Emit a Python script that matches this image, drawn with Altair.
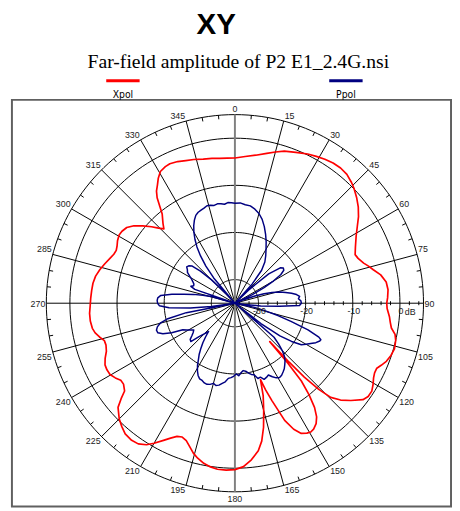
import altair as alt
import pandas as pd

# ---------------- data ----------------
title_text = "XY"
subtitle_text = "Far-field amplitude of P2 E1_2.4G.nsi"
series_names = ["Xpol", "Ppol"]

xpol_ang = [0, 4, 8, 12, 15, 18, 22, 26, 29, 32, 35, 38, 41, 44, 46, 49, 52, 55, 58, 61,
            65, 68, 70, 72.7, 74.5, 76.4, 79, 82, 85, 88, 90, 92, 95, 97, 99, 101, 103, 106, 108.5, 111,
            113, 114.6, 116.5, 118.3, 120.5, 122.7, 125, 127, 130, 132.5, 134.5, 135.8, 136.8, 137.4, 137.8, 138.6, 139.5, 141, 142.6, 144.3,
            146, 148, 149.5, 151, 153, 155, 157, 159.2, 160.5, 161.5, 163, 165, 167, 169, 171, 174, 177, 180, 183, 186,
            188.5, 191, 193.5, 195.5, 197.5, 199.5, 201.5, 203.5, 205.5, 207.5, 210, 212, 214.5, 217, 220, 222.5, 225, 228.3, 230, 231.5,
            234, 236, 238, 240.3, 242.5, 244.6, 247, 249.5, 252, 254, 256, 258, 260, 263, 266, 269, 272, 275, 278, 281,
            284, 287, 290, 292, 294, 296, 298, 300.5, 302.5, 305, 307.5, 310, 312.5, 314.5, 316.3, 318, 320.8, 322.2, 323.6, 325,
            326.8, 328.5, 330.5, 333, 335, 338, 341, 344, 347.6, 351, 354, 357, 360]
xpol_db = [-4.2, -3.8, -3.3, -2.5, -1.8, -1.1, -0.5, 0.2, 0.6, 1.0, 1.3, 1.4, 1.2, 0.6, 0.1, -0.8, -1.8, -3.0, -4.4, -5.6,
           -6.8, -7.5, -7.2, -6.4, -5.6, -4.8, -3.5, -2.6, -2.4, -2.6, -2.8, -2.7, -2.1, -1.8, -1.4, -0.4, 0.0, 0.2, -0.1, -0.6,
           -1.3, -1.9, -1.9, -1.6, -1.0, -0.5, -0.5, -1.0, -2.9, -4.6, -6.5, -9.5, -13.5, -18, -24, -18, -13.3, -10.0, -7.2, -5.3,
           -4.2, -3.5, -3.3, -3.5, -4.0, -5.5, -8.0, -12.9, -15.5, -17.9, -14.5, -11.4, -8.0, -5.2, -3.3, -1.6, -0.3, 0.3, 0.45, 0.4,
           0.1, -0.4, -1.2, -2.0, -3.1, -4.1, -4.5, -4.2, -3.3, -2.2, -0.7, 0.4, 1.2, 1.4, 1.2, 0.5, -0.3, -1.8, -3.5, -5.1,
           -5.8, -5.8, -5.1, -4.5, -4.4, -4.5, -5.1, -5.9, -6.25, -6.2, -5.4, -4.7, -4.3, -4.1, -4.1, -4.3, -4.4, -4.5, -4.6, -4.9,
           -5.5, -6.2, -6.9, -7.3, -7.45, -7.2, -6.8, -6.5, -6.6, -7.0, -8.0, -9.5, -11.0, -12.3, -13.2, -12.2, -10.6, -9.0, -7.2, -6.0,
           -5.0, -3.9, -2.9, -2.5, -2.35, -2.6, -3.0, -3.3, -3.7, -3.9, -4.1, -4.2, -4.2]

ppol_ang = [0, 3, 6, 9, 12, 15, 18, 21, 24, 27, 30, 33, 36, 39, 42, 44, 46, 49, 52, 54,
            56, 58, 60, 62, 64, 66, 68, 70, 72, 74, 76, 78, 80, 82, 84, 86, 88, 90, 92, 94,
            96, 98, 100, 102, 104, 106, 108, 110, 112, 113, 114, 116, 118, 120, 122, 124, 126, 128, 129.5, 131,
            133, 135, 137, 139, 141, 143, 145, 147, 149, 151, 153, 155, 157, 159, 161, 163, 165, 167, 169, 171,
            173, 175, 177, 179, 181, 183, 185, 187, 189, 191, 193, 195, 197, 199, 201, 203, 205, 207, 209, 211,
            213, 215, 217, 219, 221, 223, 225, 227, 229, 231, 233, 235, 237, 239, 241, 243, 245, 247, 249, 251,
            253, 255, 257, 259, 260.5, 262, 264, 266, 268, 270, 272, 274, 276, 278, 280, 282, 284, 286, 287.5, 289,
            291, 293, 295, 297, 299, 301, 303, 305, 307, 309, 311, 313, 315, 317, 318.5, 320, 322, 324, 326, 328,
            330, 332, 334, 336, 338, 340, 342, 344, 346, 348, 350, 352, 354, 356, 358, 360]
ppol_db = [-13.8, -13.7, -14.0, -14.1, -14.6, -15.3, -16.3, -17.6, -19.0, -20.4, -21.8, -23.0, -24.2, -26.0, -29.5, -40, -31, -25.5, -22.8, -22.3,
           -22.5, -23.5, -25.5, -28, -31, -40, -33, -30.5, -28.5, -26.8, -25.2, -24.0, -22.8, -21.8, -21.2, -21.5, -21.0, -20.9, -21.3, -25.5,
           -29.5, -33, -40, -31, -28.5, -25.5, -22.5, -18.5, -15.8, -15.2, -15.3, -15.9, -16.8, -17.6, -18.4, -20.5, -23.2, -28, -40, -24,
           -22.3, -20.8, -19.6, -18.8, -18.2, -17.6, -17.2, -16.8, -16.6, -16.9, -17.5, -18.2, -17.9, -17.7, -18.4, -18.3, -19.3, -19.5, -19.9, -20.4,
           -20.6, -20.2, -19.6, -20.0, -19.5, -19.2, -19.0, -18.2, -17.8, -17.3, -17.1, -17.4, -17.0, -16.8, -16.9, -17.2, -17.3, -17.8, -18.6, -19.6,
           -20.8, -21.8, -23.0, -24.2, -25.5, -26.8, -25.8, -24.6, -22.6, -22.8, -23.6, -24.2, -24.6, -24.0, -23.3, -22.6, -20.2, -18.4, -17.5, -17.4,
           -17.8, -18.6, -20.4, -24.5, -40, -30, -25.5, -21.0, -19.0, -18.6, -18.5, -18.6, -19.2, -21.5, -24.0, -26.0, -28.0, -30, -40, -26,
           -25.0, -25.5, -25.4, -25.0, -24.5, -23.8, -23.0, -22.7, -22.2, -22.4, -23.0, -25.0, -28.0, -32, -40, -28, -25.0, -22.6, -20.6, -19.0,
           -17.6, -16.4, -15.4, -14.6, -14.2, -14.0, -13.8, -13.5, -13.6, -13.8, -13.6, -13.7, -13.9, -13.6, -13.7, -13.8]

assert len(xpol_ang) == len(xpol_db)
assert len(ppol_ang) == len(ppol_db)

ring_db = [-30, -20, -10, 0, 5]            # grid circles (5 = outer ring)
angle_labels = list(range(0, 360, 15))      # spokes / angle labels
db_labels = [-30, -20, -10, 0]
axis_tick_db = [-34, -32, -28, -26, -24, -22, -18, -16, -14, -12, -8, -6, -4, -2, 2, 4]
ring_tick_ang = [a for a in range(0, 360, 5) if a % 15 != 0]

# ---------------- geometry ----------------
OUTER = 40.0   # radius of the outer ring (dB + 35)
W, H = 447, 414
XS = alt.Scale(domain=[-227 / 4.8, 220 / 4.8], nice=False, zero=False)
YS = alt.Scale(domain=[-207 / 4.8, 207 / 4.8], nice=False, zero=False)

R_EXPR = "max(datum.db + 35, 0)"
X_EXPR = R_EXPR + " * sin(datum.ang * PI / 180)"
Y_EXPR = R_EXPR + " * cos(datum.ang * PI / 180)"

FONT = "Liberation Sans"


def polar(chart):
    return chart.transform_calculate(px=X_EXPR, py=Y_EXPR)


def XY():
    return dict(x=alt.X("px:Q", scale=XS, axis=None), y=alt.Y("py:Q", scale=YS, axis=None))


# circles
ring_rows = [{"ring": d, "db": d, "ang": a} for d in ring_db for a in range(0, 361, 2)]
rings = polar(alt.Chart(pd.DataFrame(ring_rows)).mark_line(color="black", strokeWidth=1)).encode(
    **XY(), detail="ring:N", order="ang:Q")

# spokes
spoke_df = pd.DataFrame({"ang": [a for a in angle_labels if a % 180 != 0]})
spokes = alt.Chart(spoke_df).mark_rule(color="black", strokeWidth=1).transform_calculate(
    x0="0", y0="0",
    x1=f"{OUTER} * sin(datum.ang * PI / 180)",
    y1=f"{OUTER} * cos(datum.ang * PI / 180)").encode(
    x=alt.X("x0:Q", scale=XS, axis=None), y=alt.Y("y0:Q", scale=YS, axis=None), x2="x1:Q", y2="y1:Q")

vaxis = alt.Chart(pd.DataFrame({"ang": [0]})).mark_rule(color="#808080", strokeWidth=2).transform_calculate(
    x0="0", y0=f"{-OUTER}", x1="0", y1=f"{OUTER}").encode(
    x=alt.X("x0:Q", scale=XS, axis=None), y=alt.Y("y0:Q", scale=YS, axis=None), x2="x1:Q", y2="y1:Q")

# small ticks on the outer ring
rtick = alt.Chart(pd.DataFrame({"ang": ring_tick_ang})).mark_rule(color="black", strokeWidth=1).transform_calculate(
    x0=f"{OUTER} * sin(datum.ang * PI / 180)",
    y0=f"{OUTER} * cos(datum.ang * PI / 180)",
    x1=f"{OUTER - 0.85} * sin(datum.ang * PI / 180)",
    y1=f"{OUTER - 0.85} * cos(datum.ang * PI / 180)").encode(
    x=alt.X("x0:Q", scale=XS, axis=None), y=alt.Y("y0:Q", scale=YS, axis=None), x2="x1:Q", y2="y1:Q")

# ticks along the 90 deg axis
atick = alt.Chart(pd.DataFrame({"db": axis_tick_db})).mark_rule(color="black", strokeWidth=1).transform_calculate(
    x0="datum.db + 35", y0="-0.42", y1="0.42").encode(
    x=alt.X("x0:Q", scale=XS, axis=None), y=alt.Y("y0:Q", scale=YS, axis=None), y2="y1:Q")

# data curves
xpol = polar(alt.Chart(pd.DataFrame({"ang": xpol_ang, "db": xpol_db})).mark_line(
    color="#ff0000", strokeWidth=1.7, strokeJoin="round")).encode(**XY(), order="ang:Q")
ppol = polar(alt.Chart(pd.DataFrame({"ang": ppol_ang, "db": ppol_db})).mark_line(
    color="#000080", strokeWidth=1.5, strokeJoin="round")).encode(**XY(), order="ang:Q")

# angle labels
lab_df = pd.DataFrame({"ang": angle_labels, "lab": [str(a) for a in angle_labels]})


def ang_text(cond, align, baseline, dx, dy):
    return alt.Chart(lab_df).mark_text(font=FONT, fontSize=9, color="#222222", align=align,
                                       baseline=baseline, dx=dx, dy=dy).transform_filter(cond).transform_calculate(
        px=f"{OUTER} * sin(datum.ang * PI / 180)", py=f"{OUTER} * cos(datum.ang * PI / 180)").encode(
        **XY(), text="lab:N")


alabels = [
    ang_text("datum.ang == 0", "center", "bottom", 0, -1),
    ang_text("datum.ang > 0 && datum.ang < 90", "left", "bottom", 1, 0),
    ang_text("datum.ang == 90", "left", "middle", 1, 1),
    ang_text("datum.ang > 90 && datum.ang < 180", "left", "top", 1, 1),
    ang_text("datum.ang == 180", "center", "top", 0, 3),
    ang_text("datum.ang > 180 && datum.ang < 270", "right", "top", -1, 1),
    ang_text("datum.ang == 270", "right", "middle", -1, 1),
    ang_text("datum.ang > 270", "right", "bottom", -1, 0),
]

dbl = alt.Chart(pd.DataFrame({"db": db_labels, "lab": [str(d) for d in db_labels]})).mark_text(
    font=FONT, fontSize=9, color="#222222", align="center", baseline="top", dx=1, dy=4).transform_calculate(
    px="datum.db + 35", py="0").encode(**XY(), text="lab:N")
dbunit = alt.Chart(pd.DataFrame({"db": [0], "lab": ["dB"]})).mark_text(
    font=FONT, fontSize=9, color="#222222", align="left", baseline="top", dx=5, dy=5).transform_calculate(
    px="datum.db + 35", py="0").encode(**XY(), text="lab:N")

# title, subtitle, legend (outside the framed plot area)
title = alt.Chart(alt.Data(values=[{"t": title_text}])).mark_text(
    font=FONT, fontSize=30, fontWeight="bold", color="black", align="center", baseline="alphabetic").encode(
    x=alt.value(208), y=alt.value(-67), text="t:N")
subtitle = alt.Chart(alt.Data(values=[{"t": subtitle_text}])).mark_text(
    font="Liberation Serif", fontSize=20, color="black", align="center", baseline="alphabetic").encode(
    x=alt.value(230.5), y=alt.value(-32), text="t:N")

LEG_FONT = "'Liberation Sans Narrow', 'DejaVu Sans Condensed', sans-serif"
leg = []
for name, color, xc in [(series_names[0], "#ff0000", 113), (series_names[1], "#000080", 340)]:
    leg.append(alt.Chart(alt.Data(values=[{"t": name}])).mark_rule(color=color, strokeWidth=3).encode(
        x=alt.value(xc - 17), x2=alt.value(xc + 17), y=alt.value(-19.5)))
    leg.append(alt.Chart(alt.Data(values=[{"t": name}])).mark_text(
        font=LEG_FONT, fontSize=10.5, color="black", align="center", baseline="middle").encode(
        x=alt.value(xc), y=alt.value(-5), text="t:N"))

chart = alt.layer(rings, spokes, vaxis, rtick, atick, xpol, ppol, *alabels, dbl, dbunit,
                  title, subtitle, *leg).properties(
    width=W, height=H,
    autosize=alt.AutoSizeParams(type="none"),
    padding={"left": 4, "top": 89, "right": 1, "bottom": 0},
).configure_view(stroke="#606060", strokeWidth=2)

chart.save("out.html", embed_options={"renderer": "svg", "actions": False})
